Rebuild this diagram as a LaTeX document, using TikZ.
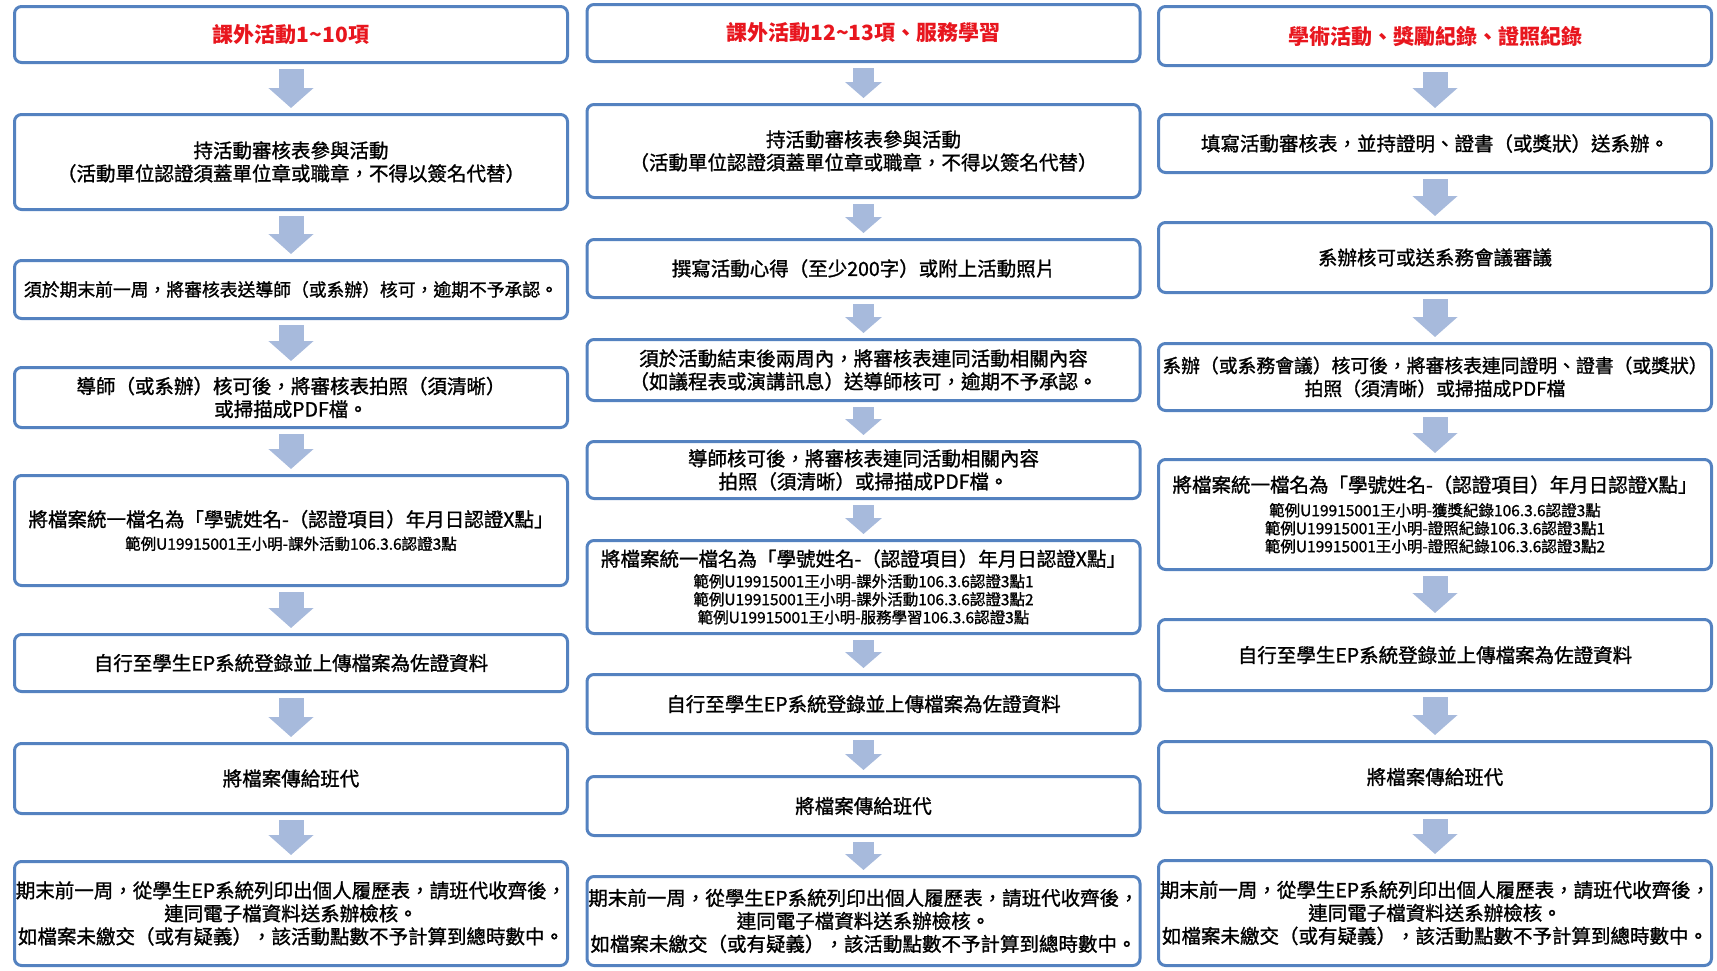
\documentclass[tikz,border=0pt]{standalone}
\usepackage{fontspec}
\setmainfont{Noto Sans CJK TC}[UprightFeatures={FakeBold=1.2}]
\usetikzlibrary{arrows.meta}
\definecolor{boxblue}{RGB}{84,130,192}
\definecolor{flowblue}{RGB}{167,186,220}
\definecolor{headred}{RGB}{232,22,30}
\newcommand{\ex}{\fontsize{15.5}{19}\selectfont}

\begin{document}
\begin{tikzpicture}[x=1pt,y=-1pt,
    box/.style={draw=boxblue,line width=3pt,rounded corners=7pt,fill=white,minimum width=553pt,align=center,inner sep=0pt,font=\fontsize{19.5}{23}\selectfont},
    headbox/.style={box,text=headred,font=\bfseries\fontsize{21}{25}\selectfont},
    flow/.style={draw=flowblue,line width=25pt,-{Triangle[width=44pt,length=20pt]},shorten <=5pt,shorten >=5pt},
    smallflow/.style={draw=flowblue,line width=21pt,-{Triangle[width=36pt,length=16pt]},shorten <=5pt,shorten >=5pt}]
\useasboundingbox (0,0) rectangle (1717,970);

% column 1
\node[headbox,minimum height=56pt] (c1a) at (291,34.5) {課外活動1\textasciitilde10項};
\node[box,minimum height=95pt] (c1b) at (291,162) {持活動審核表參與活動\\（活動單位認證須蓋單位章或職章，不得以簽名代替）};
\node[box,minimum height=58pt,font=\fontsize{17.8}{21}\selectfont] (c1c) at (291,289.5) {須於期末前一周，將審核表送導師（或系辦）核可，逾期不予承認。};
\node[box,minimum height=60pt] (c1d) at (291,397.5) {導師（或系辦）核可後，將審核表拍照（須清晰）\\或掃描成PDF檔。};
\node[box,minimum height=110pt] (c1e) at (291,530.5) {將檔案統一檔名為「學號姓名-（認證項目）年月日認證X點」\\{\ex 範例U19915001王小明-課外活動106.3.6認證3點}};
\node[box,minimum height=57pt] (c1f) at (291,663) {自行至學生EP系統登錄並上傳檔案為佐證資料};
\node[box,minimum height=70pt] (c1g) at (291,778.5) {將檔案傳給班代};
\node[box,minimum height=104pt] (c1h) at (291,913.5) {期末前一周，從學生EP系統列印出個人履歷表，請班代收齊後，\\連同電子檔資料送系辦檢核。\\如檔案未繳交（或有疑義），該活動點數不予計算到總時數中。};

% column 2
\node[headbox,minimum height=57pt] (c2a) at (863.5,33) {課外活動12\textasciitilde13項、服務學習};
\node[box,minimum height=93pt] (c2b) at (863.5,151) {持活動審核表參與活動\\（活動單位認證須蓋單位章或職章，不得以簽名代替）};
\node[box,minimum height=58pt] (c2c) at (863.5,268.5) {撰寫活動心得（至少200字）或附上活動照片};
\node[box,minimum height=61pt] (c2d) at (863.5,370) {須於活動結束後兩周內，將審核表連同活動相關內容\\（如議程表或演講訊息）送導師核可，逾期不予承認。};
\node[box,minimum height=57pt] (c2e) at (863.5,470) {導師核可後，將審核表連同活動相關內容\\拍照（須清晰）或掃描成PDF檔。};
\node[box,minimum height=93pt] (c2f) at (863.5,587) {將檔案統一檔名為「學號姓名-（認證項目）年月日認證X點」\\[-2pt]{\ex 範例U19915001王小明-課外活動106.3.6認證3點1}\\[-5pt]{\ex 範例U19915001王小明-課外活動106.3.6認證3點2}\\[-5pt]{\ex 範例U19915001王小明-服務學習106.3.6認證3點}};
\node[box,minimum height=59pt] (c2g) at (863.5,704) {自行至學生EP系統登錄並上傳檔案為佐證資料};
\node[box,minimum height=59pt] (c2h) at (863.5,806) {將檔案傳給班代};
\node[box,minimum height=89pt] (c2i) at (863.5,921) {期末前一周，從學生EP系統列印出個人履歷表，請班代收齊後，\\連同電子檔資料送系辦檢核。\\如檔案未繳交（或有疑義），該活動點數不予計算到總時數中。};

% column 3
\node[headbox,minimum height=59pt] (c3a) at (1435,36) {學術活動、獎勵紀錄、證照紀錄};
\node[box,minimum height=58pt] (c3b) at (1435,143.5) {填寫活動審核表，並持證明、證書（或獎狀）送系辦。};
\node[box,minimum height=70pt] (c3c) at (1435,257.5) {系辦核可或送系務會議審議};
\node[box,minimum height=67pt,font=\fontsize{18.8}{23}\selectfont] (c3d) at (1435,377) {系辦（或系務會議）核可後，將審核表連同證明、證書（或獎狀）\\拍照（須清晰）或掃描成PDF檔};
\node[box,minimum height=110pt] (c3e) at (1435,514.5) {將檔案統一檔名為「學號姓名-（認證項目）年月日認證X點」\\[1pt]{\ex 範例U19915001王小明-獲獎紀錄106.3.6認證3點}\\[-5pt]{\ex 範例U19915001王小明-證照紀錄106.3.6認證3點1}\\[-5pt]{\ex 範例U19915001王小明-證照紀錄106.3.6認證3點2}};
\node[box,minimum height=71pt] (c3f) at (1435,655) {自行至學生EP系統登錄並上傳檔案為佐證資料};
\node[box,minimum height=71pt] (c3g) at (1435,777) {將檔案傳給班代};
\node[box,minimum height=105pt] (c3h) at (1435,913) {期末前一周，從學生EP系統列印出個人履歷表，請班代收齊後，\\連同電子檔資料送系辦檢核。\\如檔案未繳交（或有疑義），該活動點數不予計算到總時數中。};

% arrows
\draw[flow] (c1a) -- (c1b);
\draw[flow] (c1b) -- (c1c);
\draw[flow] (c1c) -- (c1d);
\draw[flow] (c1d) -- (c1e);
\draw[flow] (c1e) -- (c1f);
\draw[flow] (c1f) -- (c1g);
\draw[flow] (c1g) -- (c1h);
\draw[smallflow] (c2a) -- (c2b);
\draw[smallflow] (c2b) -- (c2c);
\draw[smallflow] (c2c) -- (c2d);
\draw[smallflow] (c2d) -- (c2e);
\draw[smallflow] (c2e) -- (c2f);
\draw[smallflow] (c2f) -- (c2g);
\draw[smallflow] (c2g) -- (c2h);
\draw[smallflow] (c2h) -- (c2i);
\draw[flow] (c3a) -- (c3b);
\draw[flow] (c3b) -- (c3c);
\draw[flow] (c3c) -- (c3d);
\draw[flow] (c3d) -- (c3e);
\draw[flow] (c3e) -- (c3f);
\draw[flow] (c3f) -- (c3g);
\draw[flow] (c3g) -- (c3h);
\end{tikzpicture}
\end{document}
